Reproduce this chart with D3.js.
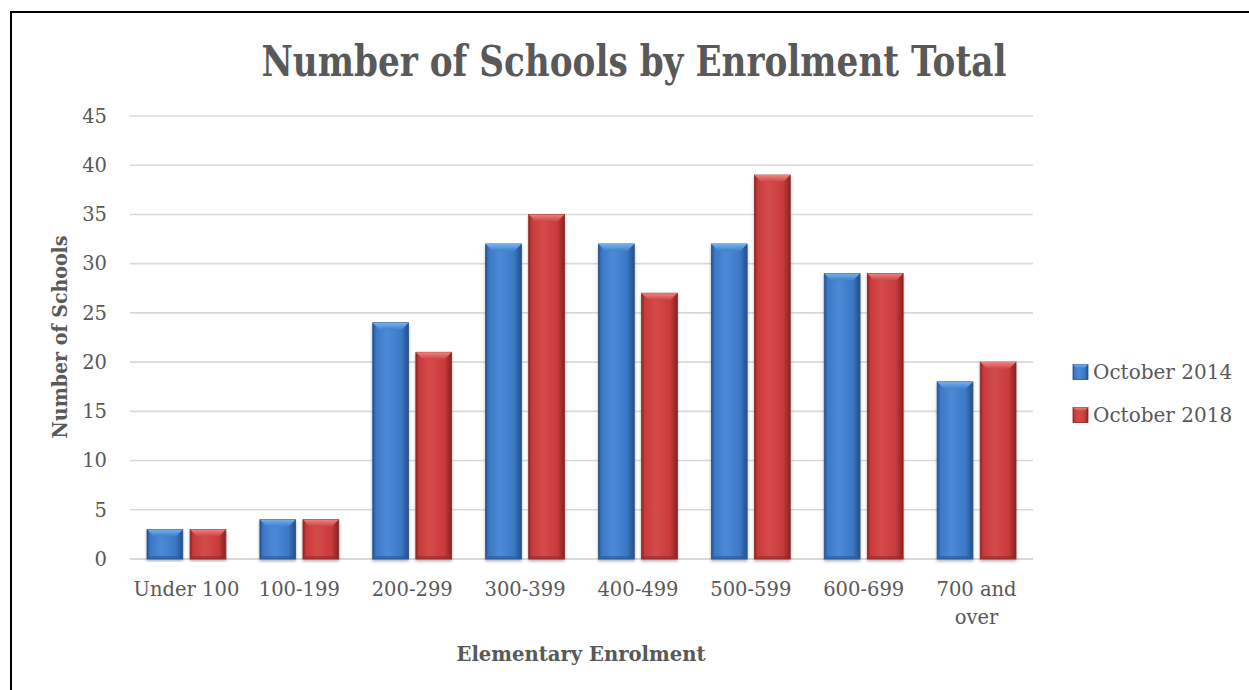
<!DOCTYPE html>
<html>
<head>
<meta charset="utf-8">
<script src="https://cdn.jsdelivr.net/npm/d3@7"></script>
<style>
  body { margin: 0; background: #fff; }
  svg { display: block; }
</style>
</head>
<body>
<svg id="chart" width="1249" height="690"></svg>
<script>
// data
const categories = ["Under 100", "100-199", "200-299", "300-399", "400-499", "500-599", "600-699", "700 and over"];
const seriesNames = ["October 2014", "October 2018"];
const oct2014 = [3, 4, 24, 32, 32, 32, 29, 18];
const oct2018 = [3, 4, 21, 35, 27, 39, 29, 20];
const yTicks = [0, 5, 10, 15, 20, 25, 30, 35, 40, 45];

const data = categories.map((c, i) => ({ cat: c, values: [oct2014[i], oct2018[i]] }));

const svg = d3.select("#chart");
const font = "'DejaVu Serif', serif";
const textColor = "#595959";

const plotLeft = 130, plotRight = 1033, plotTop = 116, plotBottom = 559;

const x0 = d3.scaleBand().domain(categories).range([plotLeft, plotRight]).paddingInner(0).paddingOuter(0);
const x1 = d3.scaleBand().domain(seriesNames).range([17, x0.bandwidth() - 17]).paddingInner(0.17);
const y = d3.scaleLinear().domain([0, 45]).range([plotBottom, plotTop]);

// colours for the bevelled bars
const palette = {
    "October 2014": { edge: "#24528f", main: "#3a78c6", light: "#4d8ad6", top: "#76b0ee", topDark: "#3f80cc", bottom: "#2b5a99" },
    "October 2018": { edge: "#8f2424", main: "#c93a3a", light: "#d44b4b", top: "#f08282", topDark: "#cb4242", bottom: "#962b2b" }
};

const defs = svg.append("defs");
seriesNames.forEach((s, i) => {
    const p = palette[s];
    const g = defs.append("linearGradient").attr("id", "body" + i).attr("x1", 0).attr("x2", 1).attr("y1", 0).attr("y2", 0);
    g.append("stop").attr("offset", "0%").attr("stop-color", p.edge);
    g.append("stop").attr("offset", "9%").attr("stop-color", p.main);
    g.append("stop").attr("offset", "40%").attr("stop-color", p.light);
    g.append("stop").attr("offset", "80%").attr("stop-color", p.main);
    g.append("stop").attr("offset", "94%").attr("stop-color", p.bottom);
    g.append("stop").attr("offset", "100%").attr("stop-color", p.edge);

    const t = defs.append("linearGradient").attr("id", "top" + i).attr("x1", 0).attr("x2", 0).attr("y1", 0).attr("y2", 1);
    t.append("stop").attr("offset", "0%").attr("stop-color", p.top);
    t.append("stop").attr("offset", "100%").attr("stop-color", p.topDark);
});
const shadow = defs.append("filter").attr("id", "shadow").attr("x", "-20%").attr("y", "-5%").attr("width", "140%").attr("height", "115%");
shadow.append("feDropShadow").attr("dx", 0).attr("dy", 2).attr("stdDeviation", 1.5)
    .attr("flood-color", "#000").attr("flood-opacity", 0.3);

// outer border
svg.append("rect")
    .attr("x", 11).attr("y", 12).attr("width", 1300).attr("height", 800)
    .attr("fill", "none").attr("stroke", "#000").attr("stroke-width", 2);

// gridlines
svg.append("g").selectAll("line")
    .data(yTicks)
    .enter()
    .append("line")
    .attr("x1", plotLeft).attr("x2", plotRight)
    .attr("y1", d => y(d)).attr("y2", d => y(d))
    .attr("stroke", "#d9d9d9")
    .attr("stroke-width", d => d === 0 ? 2 : 1.6);

// y tick labels
svg.append("g").selectAll("text")
    .data(yTicks)
    .enter()
    .append("text")
    .attr("x", 107)
    .attr("y", d => y(d))
    .attr("dy", "0.35em")
    .attr("text-anchor", "end")
    .style("font-family", font)
    .style("font-size", "19.5px")
    .style("fill", textColor)
    .text(d => d);

// bars
const groups = svg.append("g").selectAll(".cat")
    .data(data)
    .enter()
    .append("g")
    .attr("class", "cat")
    .attr("transform", d => `translate(${x0(d.cat)},0)`);

const bars = groups.selectAll(".bar")
    .data(d => d.values.map((v, i) => ({ series: seriesNames[i], idx: i, value: v })))
    .enter()
    .append("g")
    .attr("class", "bar");

bars.each(function (d) {
    const g = d3.select(this);
    const bx = x1(d.series), bw = x1.bandwidth();
    const by = y(d.value), bh = y(0) - y(d.value);
    const bev = Math.min(7, bh / 2);
    g.append("rect")
        .attr("x", bx).attr("y", by).attr("width", bw).attr("height", bh)
        .attr("fill", `url(#body${d.idx})`)
        .attr("stroke", palette[d.series].edge).attr("stroke-width", 0.8)
        .attr("filter", "url(#shadow)");
    g.append("path")
        .attr("d", `M${bx},${by}L${bx + bw},${by}L${bx + bw - bev},${by + bev}L${bx + bev},${by + bev}Z`)
        .attr("fill", `url(#top${d.idx})`);
    g.append("path")
        .attr("d", `M${bx},${by + bh}L${bx + bw},${by + bh}L${bx + bw - 3},${by + bh - 3}L${bx + 3},${by + bh - 3}Z`)
        .attr("fill", palette[d.series].bottom)
        .attr("opacity", 0.6);
});

// x category labels, wrapped like the original
const xLabels = svg.append("g").selectAll("text")
    .data(categories)
    .enter()
    .append("text")
    .attr("x", d => x0(d) + x0.bandwidth() / 2)
    .attr("y", 596)
    .attr("text-anchor", "middle")
    .style("font-family", font)
    .style("font-size", "19.5px")
    .style("fill", textColor);

xLabels.each(function (d) {
    const t = d3.select(this);
    const lines = d === "700 and over" ? ["700 and", "over"] : [d];
    lines.forEach((ln, i) => {
        t.append("tspan")
            .attr("x", x0(d) + x0.bandwidth() / 2)
            .attr("dy", i === 0 ? 0 : 28)
            .text(ln);
    });
});

// bold texts are narrower in the original face, so squeeze them to the measured width
function squeeze(sel, width) {
    const w = sel.node().getComputedTextLength();
    if (w > width) sel.attr("textLength", width).attr("lengthAdjust", "spacingAndGlyphs");
}

// title
const title = svg.append("text")
    .attr("x", 634).attr("y", 76)
    .attr("text-anchor", "middle")
    .style("font-family", font)
    .style("font-weight", "bold")
    .style("font-size", "42px")
    .style("fill", textColor)
    .text("Number of Schools by Enrolment Total");
squeeze(title, 745);

// axis titles
const yTitle = svg.append("text")
    .attr("transform", "translate(67,337) rotate(-90)")
    .attr("text-anchor", "middle")
    .style("font-family", font)
    .style("font-weight", "bold")
    .style("font-size", "21px")
    .style("fill", textColor)
    .text("Number of Schools");
squeeze(yTitle, 203);

const xTitle = svg.append("text")
    .attr("x", 581).attr("y", 661)
    .attr("text-anchor", "middle")
    .style("font-family", font)
    .style("font-weight", "bold")
    .style("font-size", "21px")
    .style("fill", textColor)
    .text("Elementary Enrolment");
squeeze(xTitle, 249);

// legend
const legend = svg.append("g").selectAll(".leg")
    .data(seriesNames)
    .enter()
    .append("g")
    .attr("class", "leg")
    .attr("transform", (d, i) => `translate(1073,${372 + i * 43})`);

legend.append("rect")
    .attr("x", 0).attr("y", -7.5).attr("width", 15).attr("height", 15)
    .attr("fill", (d, i) => `url(#body${i})`)
    .attr("stroke", d => palette[d].edge).attr("stroke-width", 0.8);
legend.append("path")
    .attr("d", "M0,-7.5L15,-7.5L11,-3.5L4,-3.5Z")
    .attr("fill", (d, i) => `url(#top${i})`);
legend.append("text")
    .attr("x", 20).attr("y", 0).attr("dy", "0.35em")
    .style("font-family", font)
    .style("font-size", "20px")
    .style("fill", textColor)
    .text(d => d);
</script>
</body>
</html>
